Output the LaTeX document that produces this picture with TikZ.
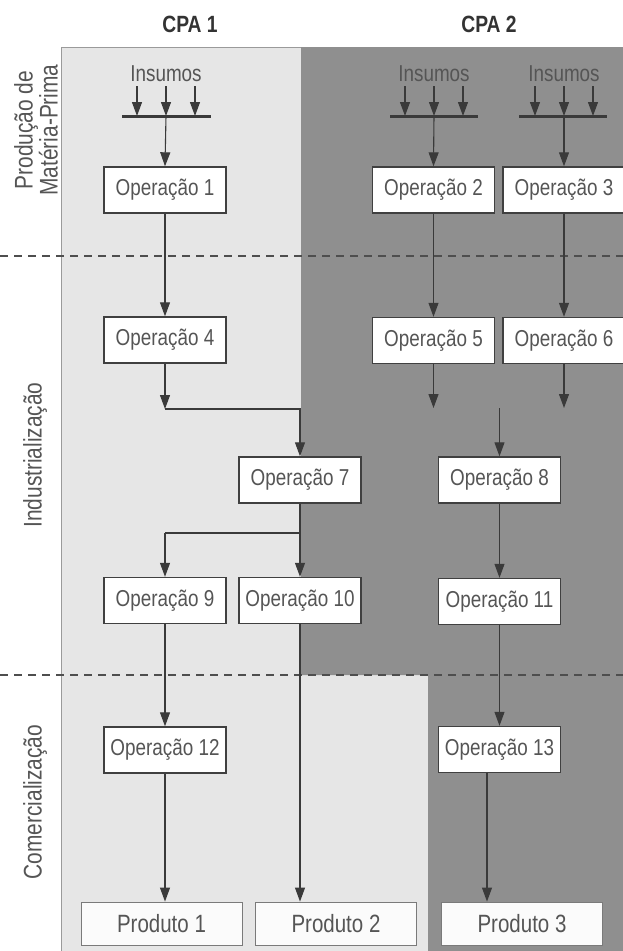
\documentclass[tikz,border=0pt]{standalone}
\usepackage{fontspec}
\setmainfont{Liberation Sans}[FakeStretch=0.82]
\usetikzlibrary{arrows.meta}
\definecolor{lightc}{HTML}{E6E6E6}
\definecolor{darkc}{HTML}{8F8F8F}
\definecolor{framec}{HTML}{9A9A9A}
\definecolor{linec}{HTML}{3A3A3A}
\definecolor{boxc}{HTML}{404040}
\definecolor{txtc}{HTML}{555555}
\definecolor{prodc}{HTML}{7A7A7A}
\tikzset{
  opbox/.style={draw=boxc, line width=1.4pt, fill=white, minimum width=122pt, minimum height=46pt, inner sep=0pt, text=txtc, font=\fontsize{23}{23}\selectfont},
  prodbox/.style={draw=prodc, line width=0.9pt, fill=white!97!gray, minimum width=161pt, minimum height=43pt, inner sep=0pt, text=txtc, font=\fontsize{25}{25}\selectfont},
  arr/.style={draw=linec, line width=1.1pt, -{Triangle[width=10pt,length=14pt]}},
  conn/.style={draw=linec, line width=1.1pt},
  barline/.style={draw=linec, line width=3pt},
  dashline/.style={draw=linec!90, line width=1.8pt, dash pattern=on 8pt off 6pt},
  inslabel/.style={text=txtc, font=\fontsize{23}{23}\selectfont, inner sep=0pt},
  seclabel/.style={text=txtc, font=\fontsize{25.5}{25}\selectfont, rotate=90, align=center, inner sep=0pt},
  cpalabel/.style={text=black!80, font=\bfseries\fontsize{23.5}{23.5}\selectfont, inner sep=0pt}
}
\begin{document}
\begin{tikzpicture}[x=1pt,y=-1pt]
\useasboundingbox (0,0) rectangle (623,951);
% backgrounds
\fill[white] (0,0) rectangle (623,951);
\fill[lightc] (61,47) rectangle (623,951);
\draw[framec, line width=1pt] (61,951) -- (61,47) -- (301,47);
\fill[darkc] (301,47) -- (623,47) -- (623,951) -- (428,951) -- (428,675) -- (301,675) -- cycle;

% dashed separators
\coordinate (d1l) at (0,256); \coordinate (d1r) at (623,256);
\coordinate (d2l) at (0,675); \coordinate (d2r) at (623,675);
\draw[dashline] (d1l) -- (d1r);
\draw[dashline] (d2l) -- (d2r);

% headings
\node[cpalabel] (cpa1) at (190,24) {CPA 1};
\node[cpalabel] (cpa2) at (489,24) {CPA 2};

% section labels
\node[seclabel] (sec1) at (36,130) {Produção de\\Matéria-Prima};
\node[seclabel] (sec2) at (35,455) {Industrialização};
\node[seclabel] (sec3) at (35,802) {Comercialização};

% insumos
\node[inslabel] (ins1) at (166,74) {Insumos};
\node[inslabel] (ins2) at (434,74) {Insumos};
\node[inslabel] (ins3) at (564,74) {Insumos};
\coordinate (b1l) at (122,116); \coordinate (b1r) at (211,116);
\coordinate (b2l) at (390,116); \coordinate (b2r) at (478,116);
\coordinate (b3l) at (519,116); \coordinate (b3r) at (607,116);
\draw[barline] (b1l) -- (b1r);
\draw[barline] (b2l) -- (b2r);
\draw[barline] (b3l) -- (b3r);
\foreach \i in {1,2,3}{
  \foreach \dx in {-29,0,29}{
    \draw[arr] ([xshift=\dx pt, yshift=-4pt]ins\i.south) -- ([xshift=\dx pt]ins\i.south |- b\i l);
  }
}

% operation boxes
\node[opbox] (op1) at (165,190) {Operação 1};
\node[opbox] (op2) at (433.5,190) {Operação 2};
\node[opbox] (op3) at (564,190) {Operação 3};
\node[opbox] (op4) at (165,340) {Operação 4};
\node[opbox] (op5) at (433.5,340.5) {Operação 5};
\node[opbox] (op6) at (564,340.5) {Operação 6};
\node[opbox] (op7) at (300,480) {Operação 7};
\node[opbox] (op8) at (499.5,480) {Operação 8};
\node[opbox] (op9) at (165,600.5) {Operação 9};
\node[opbox] (op10) at (300,600.5) {Operação 10};
\node[opbox] (op11) at (499.5,601.5) {Operação 11};
\node[opbox] (op12) at (165,750) {Operação 12};
\node[opbox] (op13) at (499.5,749.5) {Operação 13};
\node[prodbox] (p1) at (161.5,923.5) {Produto 1};
\node[prodbox] (p2) at (336,923.5) {Produto 2};
\node[prodbox] (p3) at (522,923.5) {Produto 3};

% insumos to first operations
\draw[arr] (ins1.south |- b1l) -- (op1.north);
\draw[arr] (ins2.south |- b2l) -- (op2.north);
\draw[arr] (ins3.south |- b3l) -- (op3.north);

% production -> industrialization
\draw[arr] (op1.south) -- (op4.north);
\draw[arr] (op2.south) -- (op5.north);
\draw[arr] (op3.south) -- (op6.north);

% op4 -> op7
\coordinate (j4) at (165,409);
\draw[arr] (op4.south) -- (j4);
\draw[conn] (j4) -| ([yshift=16pt]op7.north);
\draw[arr] (j4 -| op7.north) -- (op7.north);

% op5, op6 -> op8
\coordinate (j5) at (433.5,408);
\coordinate (j6) at (564,408);
\coordinate (j8) at (499.5,408);
\draw[arr] (op5.south) -- (j5);
\draw[arr] (op6.south) -- (j6);
\draw[arr] (j8) -- (op8.north);

% op7 -> op9, op10
\coordinate (j7) at (300,533);
\draw[conn] (op7.south) -- (j7);
\draw[arr] (j7) -- (op10.north);
\draw[conn] (j7) -- (j7 -| op9.north);
\draw[arr] (j7 -| op9.north) -- (op9.north);

% op8 -> op11
\draw[arr] (op8.south) -- (op11.north);

% to commercialization
\draw[arr] (op9.south) -- (op12.north);
\draw[arr] (op11.south) -- (op13.north);
\draw[arr] (op12.south) -- (op12.south |- p1.north);
\draw[arr] (op10.south) -- (op10.south |- p2.north);
\coordinate (o13) at ([xshift=-12.5pt]op13.south);
\draw[arr] (o13) -- (o13 |- p3.north);
\end{tikzpicture}
\end{document}
